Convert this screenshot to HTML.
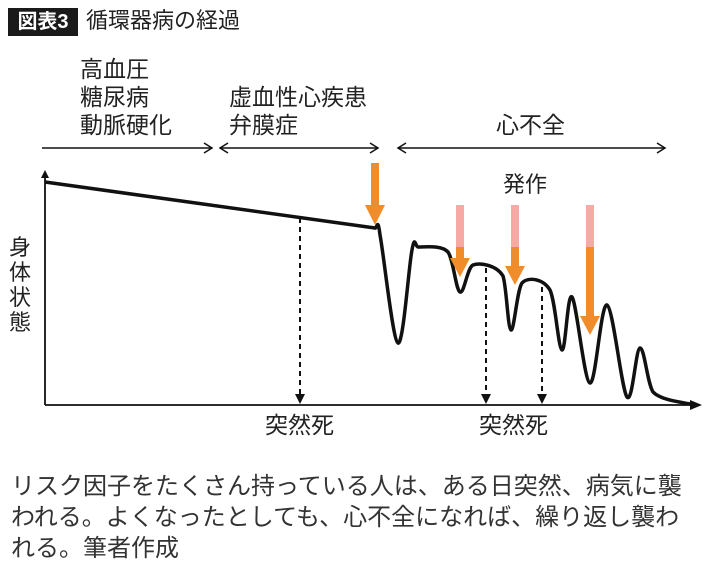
<!DOCTYPE html>
<html><head><meta charset="utf-8">
<style>
body{margin:0;width:710px;height:568px;background:#fff;overflow:hidden;font-family:"Liberation Sans","Noto Sans CJK JP",sans-serif;color:#222}
.t{position:absolute;white-space:nowrap}
</style></head><body>
<div class="t" style="left:8px;top:8px;width:70px;height:28px;background:#1a1a1a;color:#fff;font-size:20px;line-height:28px;text-align:center;font-weight:bold">図表3</div>
<div class="t" style="left:86px;top:6px;font-size:22px;line-height:30px">循環器病の経過</div>
<div class="t" style="left:80px;top:55px;font-size:23px;line-height:28px">高血圧<br>糖尿病<br>動脈硬化</div>
<div class="t" style="left:229px;top:83px;font-size:23px;line-height:28px">虚血性心疾患<br>弁膜症</div>
<div class="t" style="left:496px;top:111px;font-size:23px;line-height:28px">心不全</div>
<div class="t" style="left:503px;top:171px;font-size:22px;line-height:28px">発作</div>
<div class="t" style="left:9px;top:235px;font-size:22px;line-height:25px">身<br>体<br>状<br>態</div>
<div class="t" style="left:265px;top:411px;font-size:23px;line-height:28px">突然死</div>
<div class="t" style="left:479px;top:411px;font-size:23px;line-height:28px">突然死</div>
<div class="t" style="left:11px;top:471px;font-size:24px;line-height:31px;color:#333">リスク因子をたくさん持っている人は、ある日突然、病気に襲<br>われる。よくなったとしても、心不全になれば、繰り返し襲わ<br>れる。筆者作成</div>
<svg id="chart" width="710" height="568" style="position:absolute;left:0;top:0">
<defs>
<marker id="ah" markerWidth="8" markerHeight="8" refX="6" refY="4" orient="auto" markerUnits="userSpaceOnUse"><path d="M0,0 L8,4 L0,8 z" fill="#111"/></marker>
</defs>
</svg>
<script>
const curveX=[45,375,380,398,412,418,448,460,473,503,511,522,550,562,572,590,607,627,640,653,695];
const curveY=[182,228,235,343,250,247,252,292,265,276,330,283,290,350,297,383,305,397,348,392,405];
const stageStarts=[42,220,398];
const stageEnds=[212,378,665];
const attackX=[460,515,590];
const attackPinkTop=[205,205,205];
const attackTip=[277,285,335];
const suddenX=[300,486,542];
const suddenTop=[218,268,287];
const NS="http://www.w3.org/2000/svg";
const svg=document.getElementById('chart');
function mk(t,a){const e=document.createElementNS(NS,t);for(const k in a)e.setAttribute(k,a[k]);svg.appendChild(e);return e;}
let e=mk('line',{x1:45,y1:405,x2:45,y2:172,stroke:'#111','stroke-width':1.8,'marker-end':'url(#ah)'});

e=mk('line',{x1:45,y1:405,x2:700,y2:405,stroke:'#111','stroke-width':1.8});

for(let i=0;i<stageStarts.length;i++){
 const y=148;const g=mk('g',{});
 
 const a=stageStarts[i],b=stageEnds[i];
 const l=document.createElementNS(NS,'line');[['x1',a],['y1',y],['x2',b],['y2',y],['stroke','#111'],['stroke-width',1.5]].forEach(p=>l.setAttribute(p[0],p[1]));g.appendChild(l);
 const p=document.createElementNS(NS,'path');p.setAttribute('d',`M${b-8},${y-5} L${b},${y} L${b-8},${y+5}`+(i>0?` M${a+8},${y-5} L${a},${y} L${a+8},${y+5}`:''));p.setAttribute('fill','none');p.setAttribute('stroke','#111');p.setAttribute('stroke-width',1.5);g.appendChild(p);
}
for(let i=0;i<suddenX.length;i++){
 e=mk('line',{x1:suddenX[i],y1:suddenTop[i],x2:suddenX[i],y2:396,stroke:'#111','stroke-width':2,'stroke-dasharray':'5,4'});
 
 e=mk('path',{d:`M${suddenX[i]-5},394 L${suddenX[i]+5},394 L${suddenX[i]},404 z`,fill:'#111'});
 
}
// smooth curve with control points clamped inside each segment's x range
let d=`M${curveX[0]},${curveY[0]}`;
const n=curveX.length;
for(let i=0;i<n-1;i++){
 const x1=curveX[i],y1=curveY[i],x2=curveX[i+1],y2=curveY[i+1];
 if(i===0){d+=` L${x2},${y2}`;continue;}
 const x0=curveX[i-1],y0=curveY[i-1],x3=curveX[Math.min(i+2,n-1)],y3=curveY[Math.min(i+2,n-1)];
 const dx=x2-x1;
 let c1x=x1+(x2-x0)/6,c1y=y1+(y2-y0)/6,c2x=x2-(x3-x1)/6,c2y=y2-(y3-y1)/6;
 c1x=Math.min(Math.max(c1x,x1),x1+dx*0.45);c2x=Math.max(Math.min(c2x,x2),x2-dx*0.45);
 if(i===1){c1x=x1+dx*0.4;c1y=y1+1;}
 d+=` C${c1x},${c1y} ${c2x},${c2y} ${x2},${y2}`;
}
e=mk('path',{d:d,fill:'none',stroke:'#111','stroke-width':3.5,'stroke-linejoin':'round'});

e=mk('path',{d:'M690,400 L702,405 L690,410 z',fill:'#111'});

e=mk('rect',{x:371,y:163,width:8,height:45,fill:'#f08c2a'});

e=mk('path',{d:'M365,205 L385,205 L375,225 z',fill:'#f08c2a'});

for(let i=0;i<attackX.length;i++){
 const x=attackX[i],tip=attackTip[i],mid=attackPinkTop[i]+42;
 e=mk('rect',{x:x-4,y:attackPinkTop[i],width:8,height:mid-attackPinkTop[i],fill:'#f6a9a5'});
 
 e=mk('rect',{x:x-4,y:mid,width:8,height:tip-18-mid,fill:'#f08c2a'});
 
 e=mk('path',{d:`M${x-10},${tip-19} L${x+10},${tip-19} L${x},${tip} z`,fill:'#f08c2a'});
 
}
</script>
</body></html>
